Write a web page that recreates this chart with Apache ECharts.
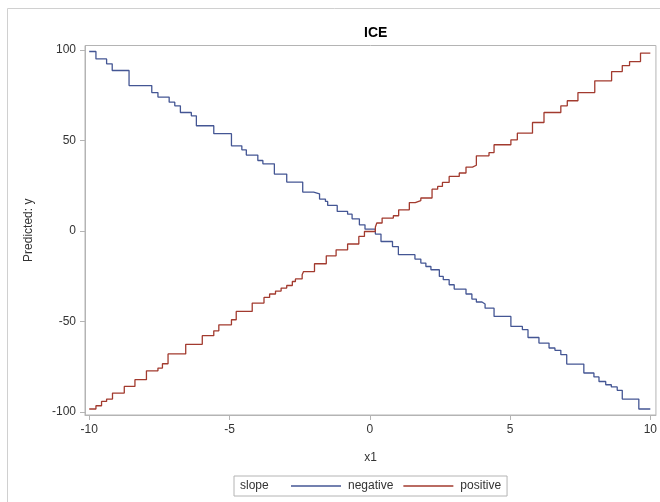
<!DOCTYPE html>
<html>
<head>
<meta charset="utf-8">
<script src="https://cdn.jsdelivr.net/npm/echarts@6/dist/echarts.min.js"></script>
<style>
html,body{margin:0;padding:0;background:#fff;}
#c{width:660px;height:502px;}
</style>
</head>
<body>
<div id="c"></div>
<script>
// ---- data ----
const xTicks = [-10, -5, 0, 5, 10];
const yTicks = [-100, -50, 0, 50, 100];
const seriesNames = ['negative', 'positive'];
const negX = [-10, -9.76, -9.38, -9.18, -8.58, -7.77, -7.55, -7.15, -6.95, -6.75, -6.36, -6.18, -5.56, -4.93, -4.56, -4.40, -3.99, -3.81, -3.40, -2.96, -2.39, -2.00, -1.79, -1.58, -1.50, -1.16, -0.79, -0.63, -0.37, -0.17, 0.20, 0.40, 0.81, 1.02, 1.61, 1.82, 2.00, 2.18, 2.48, 2.62, 2.83, 3.01, 3.43, 3.64, 3.80, 4.00, 4.11, 4.43, 5.03, 5.44, 5.64, 6.03, 6.39, 6.60, 6.81, 7.02, 7.63, 7.99, 8.17, 8.41, 8.61, 8.82, 9.00, 9.59, 10];
const negY = [99.1, 95.0, 92.3, 88.6, 80.3, 76.4, 73.9, 71.1, 69.1, 65.4, 63.6, 58.1, 53.7, 47.0, 44.8, 41.9, 38.9, 37.1, 31.4, 27.0, 21.5, 20.5, 17.6, 16.3, 14.1, 10.8, 9.3, 6.7, 3.4, 1.0, -1.7, -5.8, -8.6, -13.1, -15.5, -17.7, -19.6, -21.4, -25.1, -26.9, -29.7, -32.1, -34.8, -37.6, -39.2, -40.3, -42.6, -47.2, -52.7, -54.5, -58.8, -61.9, -64.6, -65.9, -68.3, -73.5, -78.4, -80.6, -83.1, -84.9, -86.1, -88.0, -92.8, -98.3, -98.3];
const posX = [-10, -9.76, -9.56, -9.38, -9.17, -8.75, -8.37, -7.96, -7.55, -7.39, -7.19, -6.56, -5.97, -5.56, -5.38, -4.93, -4.76, -4.19, -3.77, -3.57, -3.36, -3.16, -2.96, -2.76, -2.65, -2.41, -2.36, -1.97, -1.55, -1.20, -0.79, -0.39, -0.19, 0.20, 0.25, 0.44, 0.84, 1.03, 1.41, 1.62, 1.82, 2.22, 2.42, 2.59, 2.83, 3.19, 3.43, 3.66, 3.80, 4.25, 4.43, 5.03, 5.26, 5.80, 6.21, 6.81, 7.04, 7.42, 8.02, 8.62, 9.00, 9.26, 9.65, 10];
const posY = [-98.3, -96.5, -94.1, -92.8, -89.5, -85.8, -82.1, -77.2, -75.7, -73.3, -67.9, -62.6, -57.8, -55.1, -51.8, -49.0, -44.4, -39.8, -36.7, -34.8, -33.2, -31.5, -30.1, -27.9, -26.5, -24.2, -22.4, -18.1, -13.7, -10.4, -7.2, -3.0, -0.3, 2.2, 4.4, 7.1, 8.4, 11.7, 15.7, 16.8, 18.2, 23.1, 24.6, 26.8, 30.1, 32.0, 35.3, 36.3, 41.5, 43.3, 47.6, 50.3, 54.0, 59.9, 65.4, 69.1, 71.9, 76.4, 82.9, 88.0, 91.3, 93.5, 98.2, 98.2];

const zip = (xs, ys) => xs.map((x, i) => [x, ys[i]]);
const FONT = '"Liberation Sans", Arial, sans-serif';
const GRAY = '#b4b4b4';
const TXT = '#333333';

const chart = echarts.init(document.getElementById('c'), null, {renderer: 'canvas'});
chart.setOption({
  animation: false,
  backgroundColor: '#fff',
  title: {
    text: 'ICE', left: 359, top: 21,
    textStyle: {fontFamily: FONT, fontSize: 14, fontWeight: 'bold', color: '#000'}
  },
  grid: {
    left: 85, right: 3, top: 45.5, bottom: 87,
    show: true, borderColor: GRAY, borderWidth: 1, backgroundColor: 'transparent'
  },
  xAxis: {
    type: 'value', min: -10.15, max: 10.2,
    name: 'x1', nameLocation: 'middle', nameGap: 37,
    nameTextStyle: {fontFamily: FONT, fontSize: 12, color: TXT},
    splitLine: {show: false},
    axisLine: {show: true, onZero: false, lineStyle: {color: GRAY}},
    axisTick: {show: true, length: 5, customValues: xTicks, lineStyle: {color: GRAY}},
    axisLabel: {customValues: xTicks, margin: 9, fontFamily: FONT, fontSize: 12, color: TXT}
  },
  yAxis: {
    type: 'value', min: -101.6, max: 102.4,
    name: 'Predicted: y', nameLocation: 'middle', nameGap: 50,
    nameTextStyle: {fontFamily: FONT, fontSize: 12, color: TXT},
    splitLine: {show: false},
    axisLine: {show: true, onZero: false, lineStyle: {color: GRAY}},
    axisTick: {show: true, length: 5, customValues: yTicks, lineStyle: {color: GRAY}},
    axisLabel: {customValues: yTicks, margin: 9, fontFamily: FONT, fontSize: 12, color: TXT}
  },
  legend: {
    left: 234, top: 476,
    padding: [3, 6, 3, 57],
    borderColor: GRAY, borderWidth: 1,
    icon: 'rect',
    itemWidth: 50, itemHeight: 1.4, itemGap: 10,
    textStyle: {fontFamily: FONT, fontSize: 12, color: TXT, lineHeight: 14, padding: [0, 0, 0, 2]},
    data: seriesNames
  },
  graphic: [
    {type: 'rect', shape: {x: 7.5, y: 8.5, width: 700, height: 600},
     style: {fill: 'none', stroke: '#d0d0d0', lineWidth: 1}, silent: true},
    {type: 'text', x: 240, y: 486,
     style: {text: 'slope', font: '12px ' + FONT, fill: TXT, textVerticalAlign: 'middle'}}
  ],
  series: [
    {name: seriesNames[0], type: 'line', step: 'end', symbol: 'none', showSymbol: false,
     data: zip(negX, negY), lineStyle: {color: '#445694', width: 1.3}, itemStyle: {color: '#445694'}},
    {name: seriesNames[1], type: 'line', step: 'end', symbol: 'none', showSymbol: false,
     data: zip(posX, posY), lineStyle: {color: '#A23A2E', width: 1.3}, itemStyle: {color: '#A23A2E'}}
  ]
});
</script>
</body>
</html>
